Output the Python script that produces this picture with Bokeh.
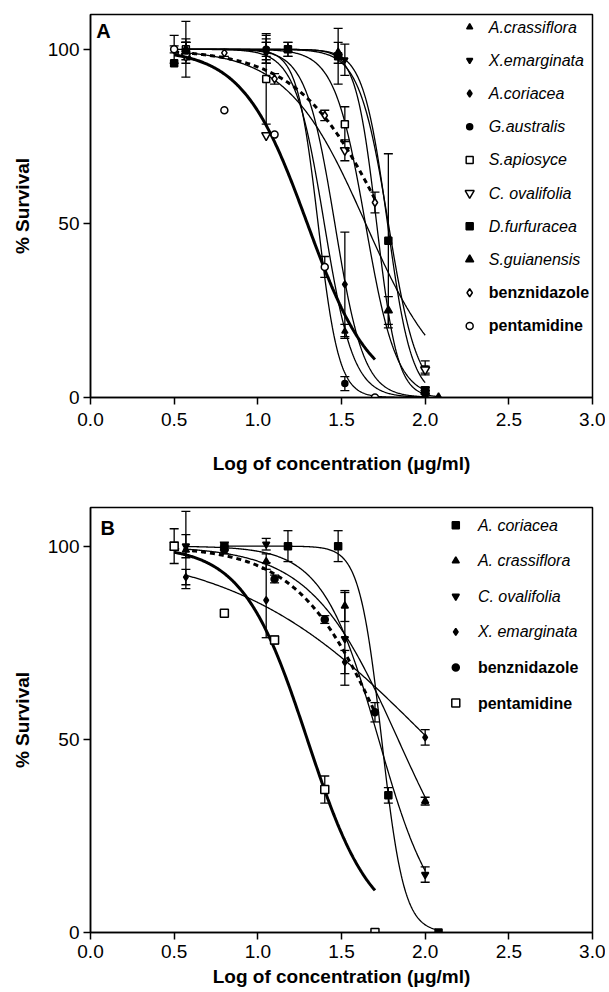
import numpy as np
from bokeh.plotting import figure
from bokeh.models import (Range1d, FixedTicker, PrintfTickFormatter, Label,
                          Whisker, TeeHead, ColumnDataSource)
from bokeh.layouts import column
from bokeh.core.properties import value
from bokeh.embed import file_html
from bokeh.resources import INLINE

FONT = "Liberation Sans"

# ---------------- shared axis data ----------------
x_ticks = [0.0, 0.5, 1.0, 1.5, 2.0, 2.5, 3.0]
y_ticks = [0, 50, 100]
x_title = "Log of concentration (\u03bcg/ml)"
y_title = "% Survival"

# log10 concentrations (ug/ml)
x_3fold = [0.57, 1.05, 1.52, 2.0]
x_2fold = [0.5, 0.8, 1.1, 1.4, 1.7]
x_15 = [0.5, 1.18, 1.48, 1.78, 2.0]
x_15b = [0.57, 1.18, 1.48, 1.78, 2.08]
x_15c = [0.8, 1.18, 1.48, 1.78, 2.08]

# ---------------- Panel A ----------------
A_names = ["A.crassiflora", "X.emarginata", "A.coriacea", "G.australis",
           "S.apiosyce", "C. ovalifolia", "D.furfuracea", "S.guianensis",
           "benznidazole", "pentamidine"]
A_x = [x_3fold, x_3fold, x_3fold, x_3fold, x_3fold, x_3fold, x_15, x_15b,
       x_2fold, x_2fold]
A_crassiflora_y = [100, 100, 19, 1]
A_crassiflora_e = [3, 4, 2, 1]
X_emarginata_y = [100, 100, 97, 8.5]
X_emarginata_e = [2, 3, 4.5, 2]
A_coriacea_y = [100, 99, 32.5, 1]
A_coriacea_e = [8, 3, 15, 1]
G_australis_y = [100, 100, 4, 0]
G_australis_e = [2, 2, 2, 0]
S_apiosyce_y = [100, 91.5, 78.5, 2]
S_apiosyce_e = [2, 13, 5, 1]
C_ovalifolia_y = [98, 75.3, 71, 8]
C_ovalifolia_e = [2, 0, 3, 1]
D_furfuracea_y = [96, 100, 98, 45, 2]
D_furfuracea_e = [0, 2, 8, 25, 1]
S_guianensis_y = [100, 100, 99, 25, 0]
S_guianensis_e = [2, 2, 3, 4, 0]
benz_A_y = [100, 99, 91.5, 81, 56]
benz_A_e = [1, 1, 1.5, 1.5, 3]
pent_A_y = [100, 82.5, 75.5, 37.5, 0]
pent_A_e = [4, 0, 0, 3, 0]
A_y = [A_crassiflora_y, X_emarginata_y, A_coriacea_y, G_australis_y,
       S_apiosyce_y, C_ovalifolia_y, D_furfuracea_y, S_guianensis_y,
       benz_A_y, pent_A_y]
A_e = [A_crassiflora_e, X_emarginata_e, A_coriacea_e, G_australis_e,
       S_apiosyce_e, C_ovalifolia_e, D_furfuracea_e, S_guianensis_e,
       benz_A_e, pent_A_e]
# fitted sigmoid parameters (logIC50, Hill slope), top 100 / bottom 0
A_logic50 = [1.397, 1.78, 1.46, 1.36, 1.643, 1.644, 1.775, 1.71, 1.774, 1.2955]
A_hill = [5.0, 5.0, 5.0, 7.0, 4.7, 1.86, 6.0, 7.0, 1.645, 2.255]

# ---------------- Panel B ----------------
B_names = ["A. coriacea", "A. crassiflora", "C. ovalifolia", "X. emarginata",
           "benznidazole", "pentamidine"]
B_x = [x_15c, x_3fold, x_3fold, x_3fold, x_2fold, x_2fold]
B_coriacea_y = [100, 100, 100, 35.5, 0]
B_coriacea_e = [1, 4, 4, 2, 0]
B_crassiflora_y = [99, 96, 84.5, 34]
B_crassiflora_e = [10, 2, 4, 1]
B_ovalifolia_y = [100, 100.5, 76, 15]
B_ovalifolia_e = [3, 1.5, 12, 2]
B_emarginata_y = [92, 86, 70, 50.5]
B_emarginata_e = [2, 9.7, 3, 2]
benz_B_y = [100, 99, 91.5, 81, 57]
benz_B_e = [1, 1, 1, 1, 2.5]
pent_B_y = [100, 82.6, 75.7, 37, 0]
pent_B_e = [4.5, 0, 1, 3.5, 0]
B_y = [B_coriacea_y, B_crassiflora_y, B_ovalifolia_y, B_emarginata_y,
       benz_B_y, pent_B_y]
B_e = [B_coriacea_e, B_crassiflora_e, B_ovalifolia_e, B_emarginata_e,
       benz_B_e, pent_B_e]
B_logic50 = [1.74, 1.838, 1.722, 2.023, 1.774, 1.2955]
B_hill = [6.5, 1.66, 2.59, 0.75, 1.645, 2.255]

# ---------------- styles ----------------
A_style = [
    dict(marker="triangle", size=6, fill="black", lw=1.3, dash="solid"),
    dict(marker="inverted_triangle", size=6, fill="black", lw=1.3, dash="solid"),
    dict(marker="diamond", size=7, fill="black", lw=1.3, dash="solid"),
    dict(marker="circle", size=6, fill="black", lw=1.3, dash="solid"),
    dict(marker="square", size=7, fill="white", lw=1.3, dash="solid"),
    dict(marker="inverted_triangle", size=9, fill="white", lw=1.3, dash="solid"),
    dict(marker="square", size=7, fill="black", lw=1.3, dash="solid"),
    dict(marker="triangle", size=8, fill="black", lw=1.3, dash="solid"),
    dict(marker="diamond", size=8, fill="white", lw=3.0, dash="5 4"),
    dict(marker="circle", size=7, fill="white", lw=3.0, dash="solid"),
]
A_font = ["italic"] * 8 + ["bold", "bold"]

B_style = [
    dict(marker="square", size=7, fill="black", lw=1.3, dash="solid"),
    dict(marker="triangle", size=7, fill="black", lw=1.3, dash="solid"),
    dict(marker="inverted_triangle", size=7, fill="black", lw=1.3, dash="solid"),
    dict(marker="diamond", size=7, fill="black", lw=1.3, dash="solid"),
    dict(marker="circle", size=7, fill="black", lw=3.0, dash="5 4"),
    dict(marker="square", size=8, fill="white", lw=3.0, dash="solid"),
]
B_font = ["italic"] * 4 + ["bold", "bold"]


def sigmoid(x, c, h):
    return 100.0 / (1.0 + 10.0 ** (h * (x - c)))


def make_panel(height, border_top, border_bottom, letter, letter_xy,
               names, xs, ys, es, cs, hs, styles, fonts,
               leg_x, leg_tx, leg_y0, leg_dy, label_standoff, title_standoff):
    p = figure(width=605, height=height, x_range=Range1d(0, 3),
               y_range=Range1d(0, 110), output_backend="svg",
               toolbar_location=None, min_border_left=90,
               min_border_right=13, min_border_top=border_top,
               min_border_bottom=border_bottom)
    p.xgrid.visible = False
    p.ygrid.visible = False
    p.outline_line_color = "black"
    p.outline_line_width = 1.5
    p.outline_line_alpha = 1.0
    p.background_fill_color = "white"
    p.border_fill_color = "white"

    for ax in (p.xaxis[0], p.yaxis[0]):
        ax.axis_line_width = 1.5
        ax.major_tick_line_width = 1.5
        ax.major_tick_out = 7
        ax.major_tick_in = 0
        ax.minor_tick_out = 0
        ax.minor_tick_in = 0
        ax.major_label_text_font = FONT
        ax.major_label_text_font_size = "19px"
        ax.major_label_text_color = "black"
        ax.axis_label_text_font = FONT
        ax.axis_label_text_font_size = "19px"
        ax.axis_label_text_font_style = "bold"
        ax.axis_label_text_color = "black"
    p.xaxis.major_label_standoff = label_standoff
    p.yaxis.major_label_standoff = 4
    p.xaxis.ticker = FixedTicker(ticks=x_ticks, minor_ticks=[])
    p.yaxis.ticker = FixedTicker(ticks=y_ticks, minor_ticks=[])
    p.xaxis.formatter = PrintfTickFormatter(format="%.1f")
    p.xaxis.axis_label = x_title
    p.yaxis.axis_label = y_title
    p.xaxis.axis_label_standoff = title_standoff
    p.yaxis.axis_label_standoff = 12

    for name, x, y, e, c, h, st in zip(names, xs, ys, es, cs, hs, styles):
        xx = np.linspace(min(x), max(x), 300)
        p.line(xx, sigmoid(xx, c, h), line_color="black",
               line_width=st["lw"], line_dash=st["dash"])
        xe = [xi for xi, ei in zip(x, e) if ei > 0]
        up = [yi + ei for yi, ei in zip(y, e) if ei > 0]
        lo = [yi - ei for yi, ei in zip(y, e) if ei > 0]
        if xe:
            src = ColumnDataSource(dict(x=xe, up=up, lo=lo))
            w = Whisker(base="x", upper="up", lower="lo", source=src,
                        line_color="black", line_width=1.3,
                        upper_head=TeeHead(size=9, line_width=1.3, line_color="black"),
                        lower_head=TeeHead(size=9, line_width=1.3, line_color="black"))
            p.add_layout(w)
        p.scatter(x, y, marker=st["marker"], size=st["size"],
                  fill_color=st["fill"], line_color="black",
                  line_width=1.5)

    # legend drawn inside the frame
    for i, (name, st, fs) in enumerate(zip(names, styles, fonts)):
        ly = leg_y0 - i * leg_dy
        p.scatter([leg_x], [ly], marker=st["marker"], size=st["size"],
                  fill_color=st["fill"], line_color="black", line_width=1.5)
        p.text([leg_tx], [ly], text=[name], text_font=value(FONT),
               text_font_size="16px", text_font_style=fs,
               text_baseline="middle", text_align="left", text_color="black")

    p.add_layout(Label(x=letter_xy[0], y=letter_xy[1], text=letter,
                       text_font=FONT, text_font_size="20px",
                       text_font_style="bold", text_baseline="top",
                       text_color="black"))
    return p


pA = make_panel(484, 14, 484 - 14 - 383, "A", (0.035, 108.5),
                A_names, A_x, A_y, A_e, A_logic50, A_hill, A_style, A_font,
                2.266, 2.38, 106.4, 9.54, 8, 24)
pB = make_panel(506, 23, 58, "B", (0.06, 107.5),
                B_names, B_x, B_y, B_e, B_logic50, B_hill, B_style, B_font,
                2.183, 2.315, 105.4, 9.2, 5, 5)

layout = column(pA, pB, spacing=0)
open("out.html", "w").write(file_html(layout, INLINE))
